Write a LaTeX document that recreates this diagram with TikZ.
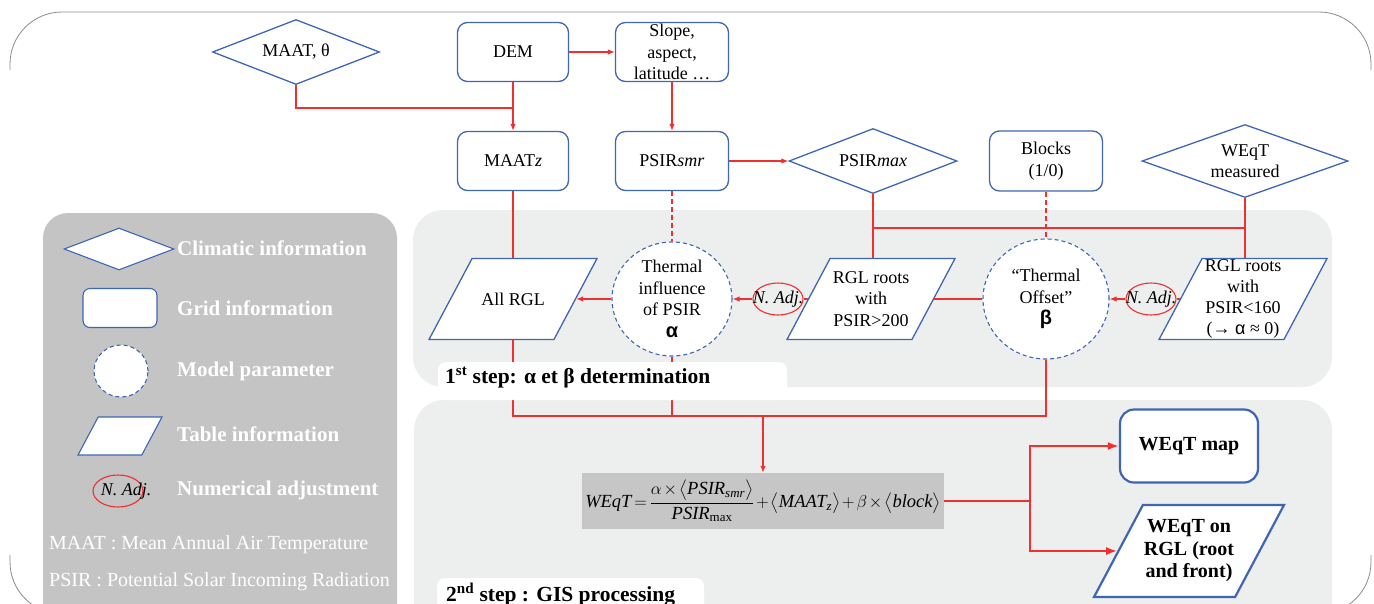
\documentclass[tikz,border=0pt]{standalone}
\usepackage{amsmath}
\usepackage{fontspec}
\setmainfont{Liberation Serif}
\setsansfont{Liberation Sans}
\usetikzlibrary{arrows.meta,shapes.geometric}
\definecolor{nodeblue}{HTML}{3F66B5}
\definecolor{linkred}{HTML}{F03030}
\definecolor{panelgrey}{HTML}{EDEEEE}
\definecolor{keygrey}{HTML}{C4C4C4}
\definecolor{eqgrey}{HTML}{C6C6C6}
\definecolor{framegrey}{HTML}{8C8C8C}
\newcommand{\boxfont}{\fontsize{18}{21.5}\selectfont}
\newcommand{\keyfont}{\fontsize{21}{25}\selectfont\bfseries}
\newcommand{\notefont}{\fontsize{20}{23}\selectfont}
\newcommand{\stepfont}{\fontsize{21.5}{26}\selectfont\bfseries}
\newcommand{\outfont}{\fontsize{20}{22.5}\selectfont\bfseries}
\newcommand{\eqfont}{\fontsize{18.5}{22}\selectfont}
\tikzset{gridbox/.style={draw=nodeblue,line width=1.3pt,fill=white,rounded corners=10pt,
    minimum width=111pt,minimum height=59pt,inner sep=0pt,align=center,font=\boxfont},
  climbox/.style={diamond,aspect=3,draw=nodeblue,line width=1.3pt,fill=white,
    inner sep=0pt,align=center,font=\boxfont},
  parambox/.style={ellipse,draw=nodeblue,line width=1.1pt,dash pattern=on 4pt off 3pt,
    fill=white,inner sep=0pt,align=center,font=\boxfont},
  tablebox/.style={trapezium,trapezium left angle=62,trapezium right angle=118,
    trapezium stretches body,draw=nodeblue,line width=1.3pt,fill=white,
    minimum width=168pt,inner xsep=0pt,inner ysep=40.5pt},
  boxtext/.style={font=\boxfont,align=center,inner sep=0pt},
  adjbox/.style={ellipse,draw=linkred,line width=1.1pt,minimum width=50pt,
    minimum height=32pt,inner sep=0pt},
  adjtext/.style={font=\boxfont\itshape,inner sep=0pt},
  link/.style={linkred,line width=1.2pt},
  dlink/.style={link,dash pattern=on 5pt off 3pt},
  flow/.style={link,-{Latex[length=7pt,width=5.5pt]}},
  outflow/.style={linkred,line width=2pt,-{Latex[length=11pt,width=8pt]}},
  keylabel/.style={anchor=west,inner sep=0pt,text=white,font=\keyfont},
  frameline/.style={framegrey,line width=0.8pt}}
\begin{document}
\begin{tikzpicture}[x=1pt,y=-1pt]
\useasboundingbox (0,0) rectangle (1374,603);
\draw[frameline,rounded corners=52pt] (10,70) -- (10,12) -- (1371,12) -- (1371,70);
\draw[frameline,rounded corners=52pt] (10,555) -- (10,614) -- (1371,614) -- (1371,555);
\fill[keygrey,rounded corners=25pt] (43,213) rectangle (397,650);
\fill[panelgrey,rounded corners=30pt] (413,210) rectangle (1332,387);
\fill[panelgrey,rounded corners=30pt] (414,400) rectangle (1332,650);
% inputs
\node[climbox,minimum width=167pt,minimum height=65pt] (maat) at (296,52) {MAAT, θ};
\node[gridbox] (dem) at (513,52) {DEM};
\node[gridbox,minimum width=113pt] (slope) at (672,52) {Slope,\\aspect,\\latitude …};
\node[gridbox] (maatz) at (513,161) {MAAT\textit{z}};
\node[gridbox,minimum width=113pt] (psirsmr) at (672,161) {PSIR\textit{smr}};
\node[climbox,minimum width=168pt,minimum height=65pt] (psirmax) at (873,161) {PSIR\textit{max}};
\node[gridbox,minimum width=113pt,minimum height=60pt] (blocks) at (1046,161) {Blocks\\(1/0)};
\node[climbox,minimum width=206pt,minimum height=73pt] (wmeas) at (1245,161) {WEqT\\measured};
% 1st step
\node[tablebox,label={[boxtext]center:All RGL}] (allrgl) at (513,299) {};
\node[parambox,minimum width=120pt,minimum height=114pt] (alpha) at (672,299)
  {Thermal\\influence\\of PSIR\\{\fontsize{20}{22}\selectfont\sffamily\bfseries α}};
\node[adjbox,label={[adjtext]center:{N. Adj.}}] (adjA) at (778,299) {};
\node[tablebox,label={[boxtext]center:{RGL roots\\with\\PSIR>200}}] (rgl200) at (871,299) {};
\node[parambox,minimum width=126pt,minimum height=120pt] (beta) at (1046,299)
  {“Thermal\\Offset”\\{\fontsize{20}{22}\selectfont\sffamily\bfseries β}};
\node[adjbox,label={[adjtext]center:{N. Adj.}}] (adjB) at (1151,299) {};
\node[tablebox,label={[boxtext,font=\fontsize{18}{21}\selectfont]center:{RGL roots\\with\\PSIR<160\\(→ {\sffamily α} ≈ 0)}}] (rgl160) at (1243,299) {};
% 2nd step
\node[fill=eqgrey,minimum width=362pt,minimum height=56pt,inner sep=0pt,font=\eqfont] (eq) at (763,501)
  {\medmuskip=2mu\thickmuskip=3mu$\textit{WEqT}=\dfrac{\alpha\times\bigl\langle\textit{PSIR}_{\textit{smr}}\bigr\rangle}{\textit{PSIR}_{\text{max}}}+\bigl\langle\textit{MAAT}_{\textit{z}}\bigr\rangle+\beta\times\bigl\langle\textit{block}\bigr\rangle$};
\node[gridbox,line width=2.2pt,rounded corners=14pt,minimum width=138pt,minimum height=73pt,font=\outfont] (map) at (1189,446) {WEqT map};
\node[tablebox,line width=2.2pt,minimum width=190pt,inner ysep=46pt,
  label={[boxtext,font=\outfont]center:{WEqT on\\RGL (root\\and front)}}] (onrgl) at (1189,551) {};
% connectors
\coordinate (demjoin) at (513,108);
\coordinate (bus1) at (0,228);
\coordinate (bus2) at (0,416);
\coordinate (fork) at (1030,501);
\draw[link] (maat) |- (demjoin);
\draw[flow] (dem) -- (maatz);
\draw[flow] (dem) -- (slope);
\draw[flow] (slope) -- (psirsmr);
\draw[flow] (psirsmr) -- (psirmax);
\draw[link] (maatz) -- (allrgl);
\draw[dlink] (psirsmr) -- (alpha);
\draw[dlink] (blocks) -- (beta);
\draw[link] (psirmax) -- (psirmax |- rgl200.north);
\draw[link] (wmeas) -- (wmeas |- rgl160.north);
\draw[link] (psirmax |- bus1) -- (wmeas |- bus1);
\draw[link] (rgl200) -- (beta);
\draw[link] (rgl200) -- (adjA);
\draw[flow] (adjA) -- (alpha);
\draw[link] (rgl160) -- (adjB);
\draw[flow] (adjB) -- (beta);
\draw[flow] (alpha) -- (allrgl);
\draw[link] (allrgl) |- (beta |- bus2) -- (beta);
\draw[link] (alpha) -- (alpha |- bus2);
\draw[flow] (eq |- bus2) -- (eq);
\draw[outflow] (eq) -- (fork) |- (map);
\draw[outflow] (fork) |- (onrgl);
% step titles
\fill[white,rounded corners=8pt] (438,362) rectangle (787,400);
\node[anchor=base west,inner sep=0pt,font=\stepfont] (step1) at (445,383) {1\textsuperscript{st} step: α et β determination};
\fill[white,rounded corners=8pt] (437,578) rectangle (704,620);
\node[anchor=base west,inner sep=0pt,font=\stepfont] (step2) at (446,601) {2\textsuperscript{nd} step : GIS processing};
% legend
\node[climbox,line width=1.1pt,minimum width=110pt,minimum height=42pt] (keyclim) at (119,249) {};
\node[gridbox,line width=1.1pt,rounded corners=7pt,minimum width=74pt,minimum height=39pt] (keygrid) at (120,308) {};
\node[parambox,minimum width=54pt,minimum height=52pt] (keyparam) at (121,371) {};
\node[tablebox,line width=1.1pt,minimum width=84pt,inner ysep=19pt] (keytable) at (120,436) {};
\node[adjbox,label={[adjtext,xshift=8pt]center:{N. Adj.}}] (keyadj) at (118,491) {};
\node[keylabel] at (177,248) {Climatic information};
\node[keylabel] at (177,308) {Grid information};
\node[keylabel] at (177,371) {Model parameter};
\node[keylabel] at (177,434) {Table information};
\node[keylabel] at (177,490) {Numerical adjustment};
\node[keylabel,font=\notefont] at (49,545) {MAAT : Mean Annual Air Temperature};
\node[keylabel,font=\notefont] at (49,582) {PSIR : Potential Solar Incoming Radiation};
\end{tikzpicture}
\end{document}
